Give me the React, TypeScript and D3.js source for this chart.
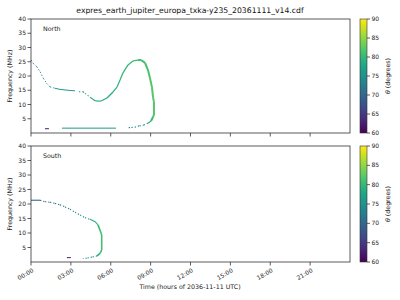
import React from 'react';
import * as d3 from 'd3';

const titleText = 'expres_earth_jupiter_europa_txka-y235_20361111_v14.cdf';
const xTickHours = [0, 3, 6, 9, 12, 15, 18, 21];
const xTickLabels = ['00:00', '03:00', '06:00', '09:00', '12:00', '15:00', '18:00', '21:00'];
const yTicks = [5, 10, 15, 20, 25, 30, 35, 40];
const cbTicks = [60, 65, 70, 75, 80, 85, 90];

// North hemisphere curves (t in hours, f in MHz, theta in degrees)
const northAT = [0, 0.17, 0.43, 0.68, 0.93, 1.18, 1.43, 1.8, 2.18, 2.56, 3.0, 3.31];
const northAF = [25.6, 24.4, 23.3, 21.5, 19.2, 17.4, 16.2, 15.7, 15.3, 15.1, 14.9, 14.8];
const northATheta = [73, 73, 73, 73, 74, 74, 75, 75, 76, 76, 76, 76];

const northBT = [3.61, 3.91, 4.06, 4.44, 4.82, 5.04, 5.27, 5.72, 6.17, 6.47, 6.7, 6.92, 7.3, 7.67, 8.05, 8.28, 8.58, 8.8, 8.95, 9.1, 9.18, 9.25, 9.25, 9.18, 9.03, 8.8, 8.5, 8.13, 7.9, 7.45, 7.22];
const northBF = [14.5, 14.5, 13.9, 12.6, 11.3, 11.2, 11.2, 12.3, 14.4, 16.1, 18.6, 21.1, 23.9, 25.3, 25.6, 25.6, 24.6, 22.1, 19.3, 16.1, 12.6, 10.9, 6.3, 5.6, 4.2, 3.4, 2.8, 2.5, 2.1, 1.9, 1.86];
const northBTheta = [76, 76, 76, 77, 78, 78, 78, 79, 79, 79, 80, 80, 80, 80, 81, 81, 81, 81, 82, 82, 82, 82, 82, 81, 80, 78, 76, 75, 74, 74, 74];

const northFlatT = [2.33, 6.4];
const northFlatF = [1.7, 1.7];
const northFlatTheta = [76, 76];

const northPurpleT = [1.05, 1.35];
const northPurpleF = [1.5, 1.5];
const northPurpleTheta = [62, 62];

// South hemisphere curves
const southT = [0, 0.68, 1.05, 1.43, 1.8, 2.18, 2.56, 2.93, 3.31, 3.69, 4.06, 4.44, 4.82, 5.04, 5.19, 5.32, 5.32, 5.19, 4.97, 4.59, 4.2, 3.9];
const southF = [21.3, 21.3, 20.8, 20.6, 20.2, 19.7, 19.0, 18.2, 17.2, 16.2, 15.3, 14.7, 13.9, 12.8, 11.0, 9.3, 4.1, 3.0, 2.1, 1.7, 1.3, 1.2];
const southTheta = [70, 70, 70, 70, 71, 71, 72, 72, 73, 74, 76, 77, 79, 80, 81, 81, 81, 80, 78, 76, 75, 75];

const southPurpleT = [2.7, 3.0];
const southPurpleF = [1.5, 1.5];
const southPurpleTheta = [62, 62];

const X0 = 31, X1 = 350;
const panels = [
  { y0: 19, y1: 133, label: 'North' },
  { y0: 146, y1: 262, label: 'South' },
];
const CB_X = 360, CB_W = 7;
const FONT = 'DejaVu Sans, sans-serif';

const x = d3.scaleLinear().domain([0, 24]).range([X0, X1]);
const color = (th: number) => d3.interpolateViridis((th - 60) / 30);

type Seg = { t: number[]; f: number[]; th: number[]; dashed?: (i: number) => boolean; width?: (i: number) => number };

function Curve({ seg, y }: { seg: Seg; y: d3.ScaleLinear<number, number> }) {
  const out: JSX.Element[] = [];
  for (let i = 0; i < seg.t.length - 1; i++) {
    const dashed = seg.dashed ? seg.dashed(i) : false;
    out.push(
      <line
        key={i}
        x1={x(seg.t[i])}
        y1={y(seg.f[i])}
        x2={x(seg.t[i + 1])}
        y2={y(seg.f[i + 1])}
        stroke={color((seg.th[i] + seg.th[i + 1]) / 2)}
        strokeWidth={seg.width ? seg.width(i) : 1.0}
        strokeDasharray={dashed ? '1.3 2' : undefined}
        strokeLinecap="butt"
      />
    );
  }
  return <g>{out}</g>;
}

export default function App() {
  const northSegs: Seg[] = [
    { t: northAT, f: northAF, th: northATheta, dashed: (i) => i < 7, width: () => 1.0 },
    {
      t: northBT, f: northBF, th: northBTheta,
      dashed: (i) => i < 3 || i >= 25,
      width: (i) => (i >= 14 && i <= 23 ? 2.0 : i >= 7 && i < 14 ? 1.3 : 1.1),
    },
    { t: northFlatT, f: northFlatF, th: northFlatTheta, width: () => 1.0 },
    { t: northPurpleT, f: northPurpleF, th: northPurpleTheta, width: () => 1.0 },
  ];
  const southSegs: Seg[] = [
    {
      t: southT, f: southF, th: southTheta,
      dashed: (i) => (i >= 1 && i < 11) || i >= 18,
      width: (i) => (i >= 13 && i <= 17 ? 1.6 : 1.1),
    },
    { t: southPurpleT, f: southPurpleF, th: southPurpleTheta, width: () => 1.0 },
  ];
  const segsByPanel = [northSegs, southSegs];

  return (
    <svg width={400} height={300} style={{ position: 'absolute', left: 0, top: 0, background: '#fff' }} fontFamily={FONT}>
      <defs>
        <linearGradient id="viridis" x1="0" y1="1" x2="0" y2="0">
          {d3.range(0, 1.0001, 0.05).map((s) => (
            <stop key={s} offset={s} stopColor={d3.interpolateViridis(s)} />
          ))}
        </linearGradient>
      </defs>
      <text x={190} y={13} textAnchor="middle" fontSize={7.7} fill="#111">{titleText}</text>
      {panels.map((p, pi) => {
        const y = d3.scaleLinear().domain([0, 40]).range([p.y1, p.y0]);
        const cb = d3.scaleLinear().domain([60, 90]).range([p.y1, p.y0]);
        const midY = (p.y0 + p.y1) / 2;
        return (
          <g key={pi}>
            {segsByPanel[pi].map((s, si) => (
              <Curve key={si} seg={s} y={y} />
            ))}
            <rect x={X0} y={p.y0} width={X1 - X0} height={p.y1 - p.y0} fill="none" stroke="#333" strokeWidth={0.8} />
            {yTicks.map((v) => (
              <g key={v}>
                <line x1={X0 - 3.5} x2={X0} y1={y(v)} y2={y(v)} stroke="#333" strokeWidth={0.8} />
                <text x={X0 - 5} y={y(v)} dy="0.35em" textAnchor="end" fontSize={6} fill="#222">{v}</text>
              </g>
            ))}
            {xTickHours.map((h, i) => (
              <g key={h}>
                <line x1={x(h)} x2={x(h)} y1={p.y1} y2={p.y1 + 3.5} stroke="#333" strokeWidth={0.8} />
                {pi === 1 && (
                  <text
                    transform={`translate(${x(h) + 1},${p.y1 + 6}) rotate(-30)`}
                    textAnchor="end"
                    dy="0.7em"
                    fontSize={6}
                    fill="#222"
                  >
                    {xTickLabels[i]}
                  </text>
                )}
              </g>
            ))}
            <text x={43} y={p.y0 + 12} fontSize={6.3} fill="#222">{p.label}</text>
            <text transform={`translate(12,${midY}) rotate(-90)`} textAnchor="middle" fontSize={6.3} fill="#222">Frequency (MHz)</text>
            <rect x={CB_X} y={p.y0} width={CB_W} height={p.y1 - p.y0} fill="url(#viridis)" stroke="#333" strokeWidth={0.6} />
            {cbTicks.map((v) => (
              <g key={v}>
                <line x1={CB_X + CB_W} x2={CB_X + CB_W + 3} y1={cb(v)} y2={cb(v)} stroke="#333" strokeWidth={0.8} />
                <text x={CB_X + CB_W + 4.5} y={cb(v)} dy="0.35em" fontSize={6} fill="#222">{v}</text>
              </g>
            ))}
            <text transform={`translate(390,${midY}) rotate(-90)`} textAnchor="middle" fontSize={6.3} fill="#222">
              <tspan fontStyle="italic">θ</tspan> (degrees)
            </text>
          </g>
        );
      })}
      <text x={190} y={289} textAnchor="middle" fontSize={6.3} fill="#222">Time (hours of 2036-11-11 UTC)</text>
    </svg>
  );
}
